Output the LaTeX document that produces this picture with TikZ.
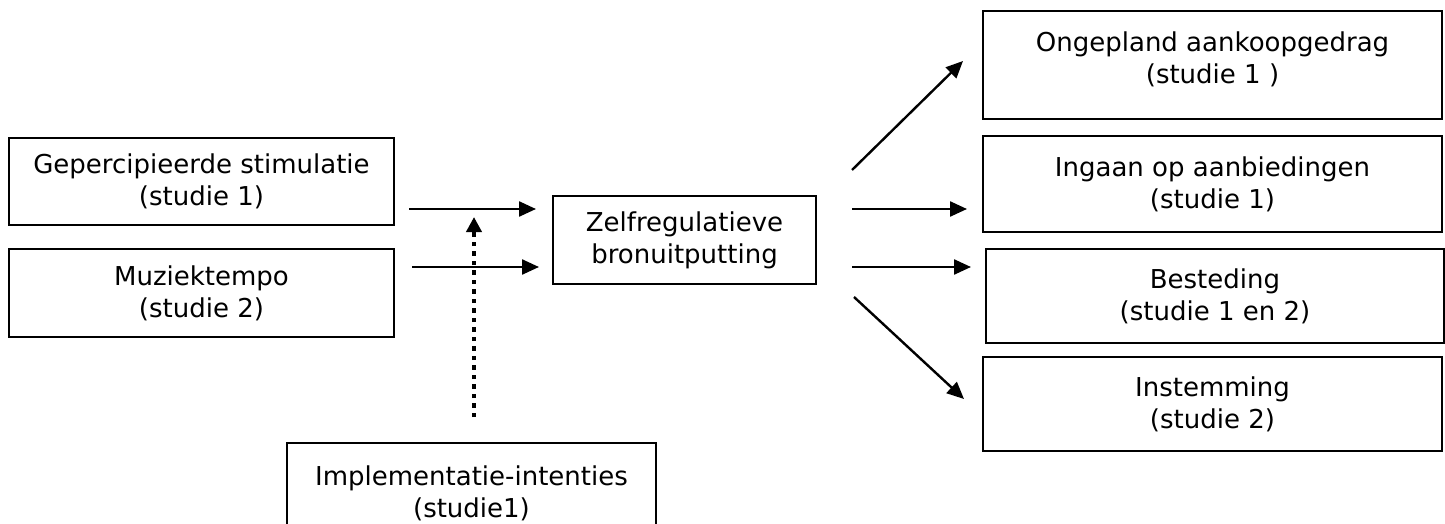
\documentclass[tikz,border=0pt]{standalone}
\usepackage{fontspec}
\setmainfont{DejaVu Sans}
\usetikzlibrary{positioning,arrows.meta}

\begin{document}
\begin{tikzpicture}[x=1pt,y=1pt,on grid,
    box/.style={draw,line width=2pt,align=center,font=\fontsize{26}{32}\selectfont},
    arr/.style={-{Triangle[length=17pt,width=15pt]},line width=2.4pt},
    modarr/.style={-{Triangle[length=15pt,width=15pt]},line width=4.5pt,dash pattern=on 4.5pt off 5pt}]
    \useasboundingbox (0,0) rectangle (1445,-524);
    \clip (0,0) rectangle (1445,-524);

    \node[box,minimum width=385pt,minimum height=87pt] (gep) at (201.5,-181.5) {Gepercipieerde stimulatie\\(studie 1)};
    \node[box,minimum width=385pt,minimum height=88pt] (muziek) [below=111.5pt of gep] {Muziektempo\\(studie 2)};
    \node[box,minimum width=263pt,minimum height=88pt] (zelf) [below right=58.5pt and 483pt of gep] {Zelfregulatieve\\bronuitputting};
    \node[box,minimum width=369pt,minimum height=100pt] (impl) [below left=253pt and 213pt of zelf] {Implementatie-intenties\\(studie1)};
    \node[box,minimum width=459pt,minimum height=96pt] (ingaan) [above right=56pt and 528pt of zelf] {Ingaan op aanbiedingen\\(studie 1)};
    \node[box,minimum width=459pt,minimum height=108pt,
          label={[box,draw=none,inner sep=0pt,anchor=north,yshift=-21pt]north:{Ongepland aankoopgedrag\\(studie 1 )}}]
          (ongepland) [above=119pt of ingaan] {};
    \node[box,minimum width=458pt,minimum height=94pt] (besteding) [below right=112pt and 2.5pt of ingaan] {Besteding\\(studie 1 en 2)};
    \node[box,minimum width=459pt,minimum height=94pt] (instemming) [below=220pt of ingaan] {Instemming\\(studie 2)};

    \path[arr] ([shift={(14,-27.5)}]gep.east) edge ([shift={(-16,31)}]zelf.west)
               ([shift={(17,26)}]muziek.east) edge ([shift={(-13,-27)}]zelf.west)
               ([shift={(35,70)}]zelf.east) edge ([shift={(-19,4)}]ongepland.west)
               ([shift={(35,31)}]zelf.east) edge ([shift={(-15,-25)}]ingaan.west)
               ([shift={(35,-27)}]zelf.east) edge ([shift={(-14,29)}]besteding.west)
               ([shift={(37,-57)}]zelf.east) edge ([shift={(-18,5)}]instemming.west);
    \path[modarr] ([shift={(2.5,25)}]impl.north) edge ([shift={(2.5,225)}]impl.north);
\end{tikzpicture}
\end{document}
